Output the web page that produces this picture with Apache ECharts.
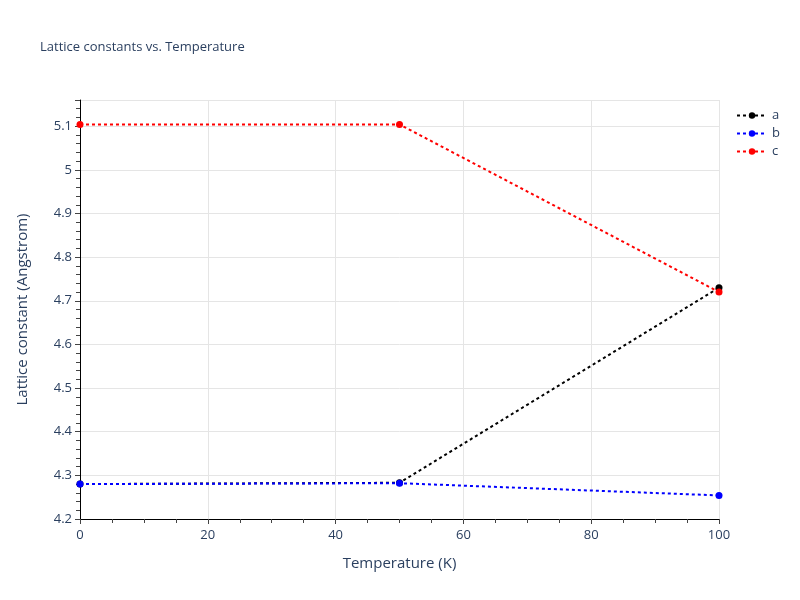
<!DOCTYPE html>
<html><head><meta charset="utf-8">
<script src="https://cdn.jsdelivr.net/npm/echarts@6/dist/echarts.min.js"></script>
<style>html,body{margin:0;padding:0;background:#fff}#c{width:800px;height:600px}</style>
</head><body><div id="c"></div>
<script>
const temps = [0, 50, 100];
const aVals = [4.280, 4.283, 4.730];
const bVals = [4.280, 4.282, 4.254];
const cVals = [5.104, 5.104, 4.720];
const names = ['a', 'b', 'c'];
const colors = ['#000000', '#0000ff', '#ff0000'];
const seriesVals = [aVals, bVals, cVals];

const chart = echarts.init(document.getElementById('c'));
const txt = '#2a3f5f';
chart.setOption({
  animation: false,
  backgroundColor: '#fff',
  title: { text: 'Lattice constants vs. Temperature', left: 35, top: 36,
    textStyle: { fontFamily: 'Open Sans', fontSize: 13, fontWeight: 'normal', color: txt } },
  legend: { orient: 'vertical', left: 731, top: 103, itemGap: 3, itemWidth: 30, itemHeight: 8,
    textStyle: { fontFamily: 'Open Sans', fontSize: 13, color: txt, lineHeight: 15 },
    data: names },
  grid: { left: 80, right: 81, top: 100, bottom: 81 },
  xAxis: { type: 'value', min: 0, max: 100, interval: 20,
    name: 'Temperature (K)', nameLocation: 'middle', nameGap: 37,
    nameTextStyle: { fontFamily: 'Open Sans', fontSize: 15, color: txt },
    axisLine: { show: true, lineStyle: { color: '#000', width: 1 } },
    axisTick: { show: true, length: 5, lineStyle: { color: '#444' } },
    minorTick: { show: true, splitNumber: 4, length: 4, lineStyle: { color: '#444' } },
    axisLabel: { fontFamily: 'Open Sans', fontSize: 13, color: txt, margin: 10 },
    splitLine: { show: true, lineStyle: { color: '#e5e5e5', width: 1 } } },
  yAxis: { type: 'value', min: 4.2, max: 5.16, interval: 0.1,
    name: 'Lattice constant (Angstrom)', nameLocation: 'middle', nameGap: 50,
    nameTextStyle: { fontFamily: 'Open Sans', fontSize: 15, color: txt },
    axisLine: { show: true, lineStyle: { color: '#000', width: 1 } },
    axisTick: { show: true, length: 5, lineStyle: { color: '#444' } },
    minorTick: { show: true, splitNumber: 5, length: 4, lineStyle: { color: '#444' } },
    axisLabel: { fontFamily: 'Open Sans', fontSize: 13, color: txt, margin: 8, showMaxLabel: false,
      formatter: v => String(Math.round(v * 10) / 10) },
    splitLine: { show: true, lineStyle: { color: '#e5e5e5', width: 1 } } },
  series: names.map((n, i) => ({
    name: n, type: 'line', symbol: 'circle', symbolSize: 7,
    data: temps.map((t, j) => [t, seriesVals[i][j]]),
    itemStyle: { color: colors[i] },
    lineStyle: { color: colors[i], width: 2, type: [3, 3] },
    z: 2 + i
  }))
});
</script></body></html>
